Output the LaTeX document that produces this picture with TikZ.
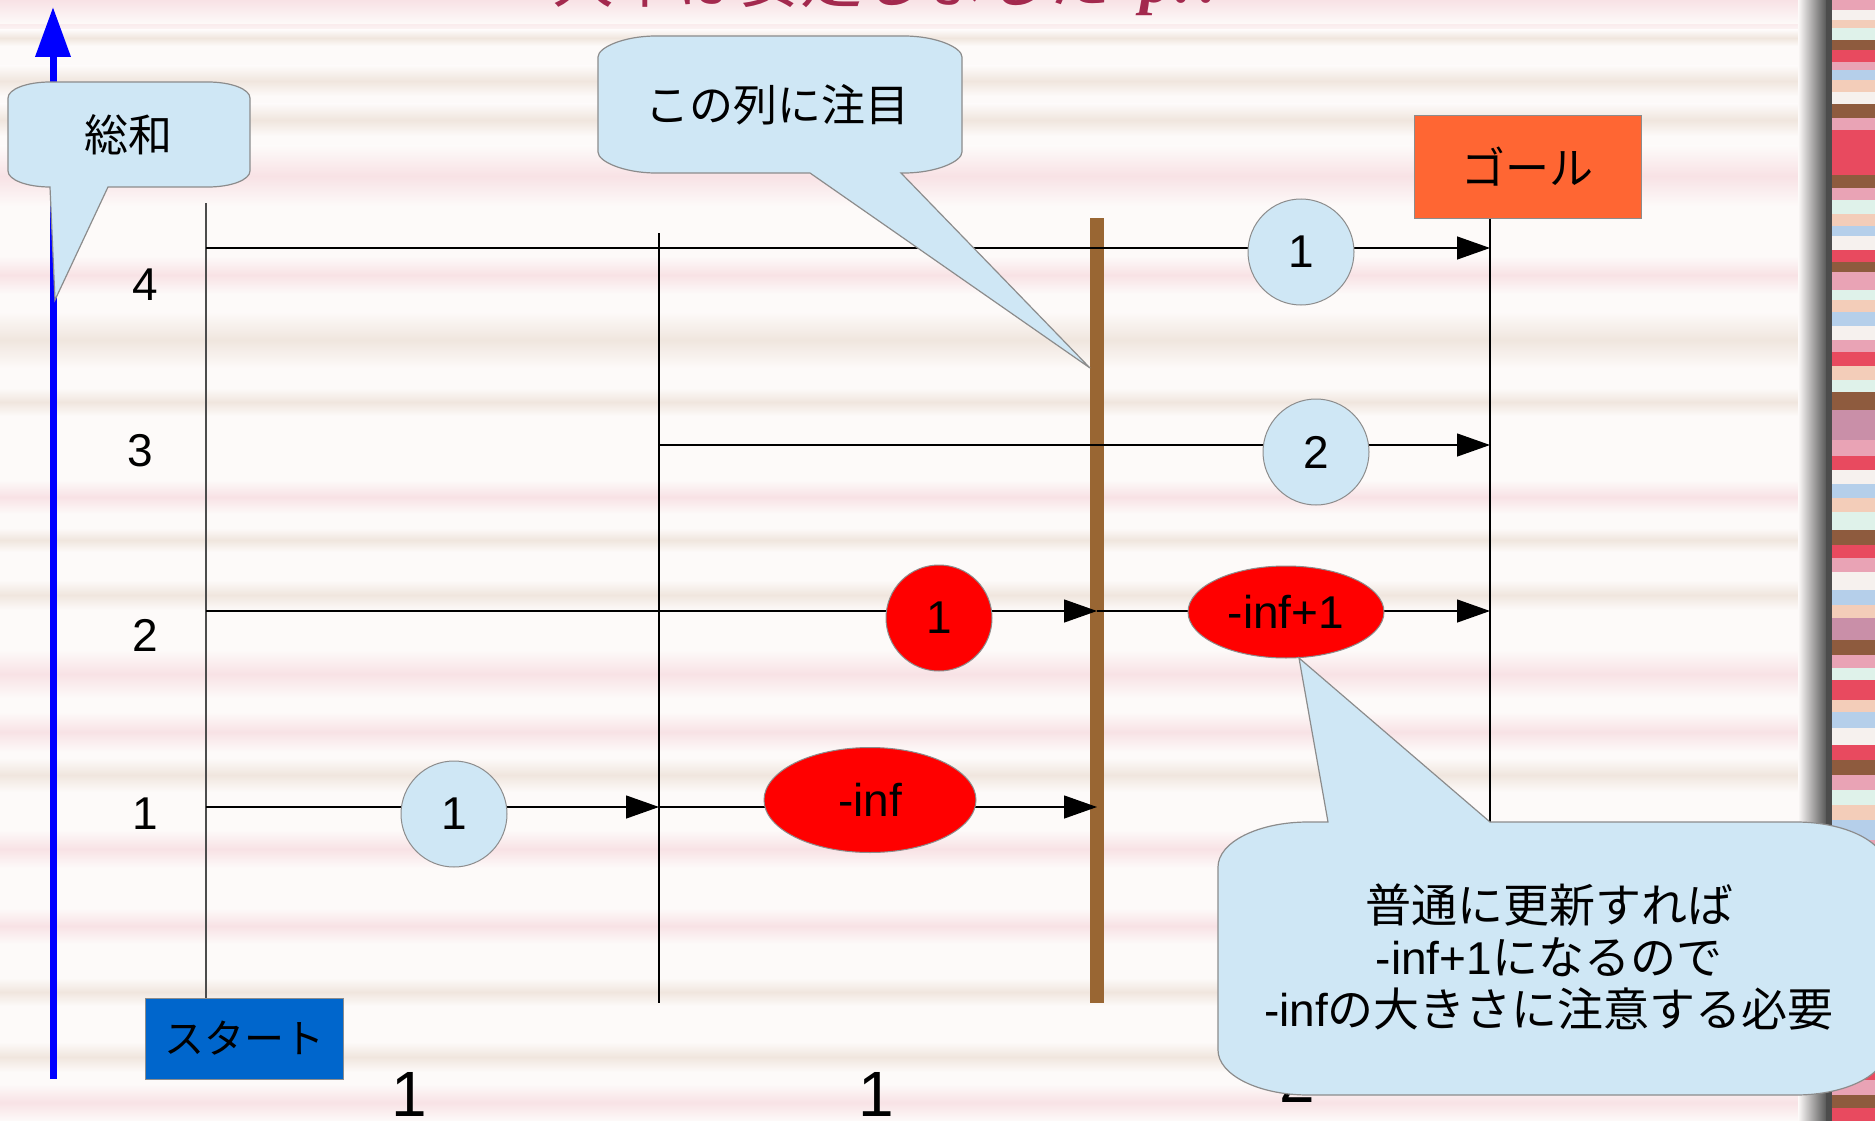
\documentclass[tikz,border=0pt]{standalone}
\usepackage{fontspec}
\setmainfont{Liberation Sans}
\newfontfamily\cjk{Noto Sans CJK JP}
\newfontfamily\serifti{Liberation Serif}
\usetikzlibrary{arrows.meta,shapes.geometric}
\definecolor{bgw}{HTML}{FDFAF9}
\definecolor{bpink}{HTML}{F8E2E5}
\definecolor{bbeige}{HTML}{F0E6DE}
\definecolor{lblue}{HTML}{CFE7F5}
\definecolor{gcol}{HTML}{8C8C8C}
\definecolor{redc}{HTML}{FF0000}
\definecolor{orng}{HTML}{FF6633}
\definecolor{stb}{HTML}{0066CC}
\definecolor{brn}{HTML}{996633}
\definecolor{crim}{HTML}{A3294E}
\definecolor{axb}{HTML}{0000FF}
\definecolor{sred}{HTML}{E84A5F}
\definecolor{spink}{HTML}{E9A3B5}
\definecolor{sbrown}{HTML}{8E5B3E}
\definecolor{sblue}{HTML}{B5CFEA}
\definecolor{smint}{HTML}{DFF2EA}
\definecolor{speach}{HTML}{F3CDB9}
\definecolor{swhite}{HTML}{F6F1EE}
\definecolor{smauve}{HTML}{C98FA8}
\newcommand\myfs[1]{\fontsize{#1}{#1}\selectfont}
\begin{document}
\begin{tikzpicture}[x=1pt,y=-1pt,
  arr/.style={line width=1.3pt,-{Triangle[length=33pt,width=23pt]}},
  vline/.style={line width=1.3pt,black},
  lb/.style={circle,draw=gcol,line width=1pt,fill=lblue,minimum size=106pt,inner sep=0pt,font=\myfs{46}},
  rd/.style={circle,draw=gcol,line width=1pt,fill=redc,minimum size=106pt,inner sep=0pt,font=\myfs{46}},
  el/.style={ellipse,draw=gcol,line width=1pt,fill=redc,inner sep=0pt,font=\myfs{46}},
  num/.style={inner sep=0pt,font=\myfs{46}},
  bignum/.style={inner sep=0pt,font=\myfs{64}},
  cbox/.style={draw=gcol,line width=1.2pt,fill=lblue},
  ctext/.style={inner sep=0pt,font=\cjk\myfs{44}}]

% background
\fill[bgw] (0,0) rectangle (1875,1121);
\useasboundingbox (0,0) rectangle (1875,1121);
\foreach \a/\b/\c in {0/34/bpink,30/46/bbeige,66/96/bbeige,104/136/bbeige,146/206/bpink,256/294/bpink,312/368/bbeige,388/416/bbeige,480/514/bpink,528/552/bbeige,580/610/bbeige,650/698/bpink,712/752/bpink,758/792/bbeige,830/868/bpink,908/944/bpink,978/1006/bbeige,1042/1072/bbeige,1084/1121/bpink}
  \shade[top color=bgw,bottom color=bgw,middle color=\c] (0,\a) rectangle (1808,\b);
\shade[top color=bpink,bottom color=bgw] (0,0) rectangle (1808,24);
% right strip
\shade[left color=bgw,right color=gray!70!black] (1798,0) rectangle (1826,1121);
\fill[gray!60!black] (1826,0) rectangle (1832,1121);
\foreach \a/\b/\c in {0/10/spink,10/20/swhite,20/28/speach,28/40/smint,40/50/sbrown,50/62/sred,62/70/spink,70/80/sblue,80/92/speach,92/104/swhite,104/118/sbrown,118/130/spink,130/175/sred,175/188/sbrown,188/200/spink,200/214/smint,214/226/speach,226/236/sblue,236/250/swhite,250/262/sred,262/272/sbrown,272/290/spink,290/300/smint,300/312/speach,312/326/sblue,326/340/swhite,340/352/spink,352/366/sred,366/380/speach,380/392/smint,392/410/sbrown,410/440/smauve,440/456/spink,456/470/sred,470/484/swhite,484/498/sblue,498/512/speach,512/530/smint,530/545/sbrown,545/558/sred,558/572/spink,572/590/swhite,590/605/sblue,605/618/speach,618/640/smauve,640/655/sbrown,655/668/spink,668/680/smint,680/700/sred,700/712/speach,712/728/sblue,728/745/swhite,745/760/sred,760/775/sbrown,775/790/spink,790/805/smint,805/820/speach,820/840/sblue,840/855/spink,855/870/sred,870/885/swhite,885/900/sbrown,900/915/smint,915/930/spink,930/945/sred,945/960/speach,960/975/sblue,975/990/swhite,990/1005/sred,1005/1020/spink,1020/1035/sbrown,1035/1050/smint,1050/1065/speach,1065/1080/sred,1080/1095/spink,1095/1108/sbrown,1108/1121/sred}
  \fill[\c] (1832,\a) rectangle (1875,\b);

% title (cut off at the top)
\begin{scope}
\clip (0,0) rectangle (1875,1121);
\node[anchor=base west,inner sep=0pt,text=crim,font=\myfs{62}] (title) at (552,3)
  {{\cjk 大半は安定しました}\hspace{30pt}{\serifti\itshape\bfseries p!?}};
\end{scope}

% blue axis
\coordinate (axbot) at (53,1079);
\coordinate (axtop) at (53,7);
\draw[axb,line width=7pt,-{Triangle[length=50pt,width=34pt]}] (axbot) -- (axtop);

% boxes
\node[draw=gcol,line width=1pt,fill=stb,minimum width=198pt,minimum height=81pt,inner sep=0pt,font=\cjk\myfs{40}] (start) at (244,1038.5) {スタート};
\node[draw=gcol,line width=1pt,fill=orng,minimum width=227pt,minimum height=102pt,inner sep=0pt,font=\cjk\myfs{44}] (goal) at (1527.5,167) {ゴール};

% vertical lines
\coordinate (sltop) at (206,203);
\draw[vline,draw=black!70] (sltop) -- (sltop |- start.north);
\coordinate (mltop) at (659,233);
\coordinate (mlbot) at (659,1003);
\draw[vline] (mltop) -- (mlbot);
\coordinate (glbot) at (1490,822);
\draw[vline] (glbot |- goal.south) -- (glbot);
\fill[brn] (1090,218) rectangle (1104,1003);

% row lines
\coordinate (r4a) at (206,248); \coordinate (r4b) at (1490,248);
\coordinate (r3a) at (659,445); \coordinate (r3b) at (1490,445);
\coordinate (r2a) at (206,611); \coordinate (r2m) at (1097,611); \coordinate (r2b) at (1490,611);
\coordinate (r1a) at (206,807); \coordinate (r1m) at (659,807); \coordinate (r1b) at (1097,807);
\draw[arr] (r4a) -- (r4b);
\draw[arr] (r3a) -- (r3b);
\draw[arr] (r2a) -- (r2m);
\draw[arr] (r2m) -- (r2b);
\draw[arr] (r1a) -- (r1m);
\draw[arr] (r1m) -- (r1b);

% value nodes
\node[lb] (c4) at (1301,252) {1};
\node[lb] (c3) at (1316,452) {2};
\node[rd] (c2) at (939,618) {1};
\node[el,minimum width=196pt,minimum height=92pt] (e2) at (1286,612) {-inf+1};
\node[lb] (c1) at (454,814) {1};
\node[el,minimum width=212pt,minimum height=105pt] (e1) at (870,800) {-inf};

% row labels
\node[num] (l4) at (145,285) {4};
\node[num] (l3) at (140,451) {3};
\node[num] (l2) at (145,635) {2};
\node[num] (l1) at (145,814) {1};

% bottom labels
\node[bignum] (b1) at (409,1094) {1};
\node[bignum] (b2) at (876,1094) {1};
\node[bignum] (b3) at (1297,1080) {2};

% callouts
\draw[cbox] (50,82) -- (208,82) .. controls (231.2,82) and (250,89.2) .. (250,98) -- (250,171) .. controls (250,179.8) and (231.2,187) .. (208,187) -- (108,187) -- (55,300) -- (50,187) .. controls (26.8,187) and (8,179.8) .. (8,171) -- (8,98) .. controls (8,89.2) and (26.8,82) .. (50,82) -- cycle;
\node[ctext] (sowa) at (128,135) {総和};

\draw[cbox] (656,36) -- (904,36) .. controls (936,36) and (962,47.4) .. (962,57) -- (962,152) .. controls (962,161.6) and (936,173) .. (904,173) -- (901,173) -- (1090,368) -- (810,173) -- (656,173) .. controls (624,173) and (598,161.6) .. (598,152) -- (598,57) .. controls (598,47.4) and (624,36) .. (656,36) -- cycle;
\node[ctext] (chumoku) at (777,105) {この列に注目};

\draw[cbox] (1218,867) .. controls (1218,842.2) and (1258.3,822) .. (1308,822) -- (1328,822) -- (1299,658) -- (1490,822) -- (1796,822) .. controls (1845.7,822) and (1886,842.2) .. (1886,867) -- (1886,1050) .. controls (1886,1074.8) and (1845.7,1095) .. (1796,1095) -- (1308,1095) .. controls (1258.3,1095) and (1218,1074.8) .. (1218,1050) -- cycle;
\node[inner sep=0pt,align=center,font=\fontsize{46}{52}\selectfont] (note) at (1549,957)
  {{\cjk 普通に更新すれば}\\-inf+1{\cjk になるので}\\-inf{\cjk の大きさに注意する必要}};

\end{tikzpicture}
\end{document}
